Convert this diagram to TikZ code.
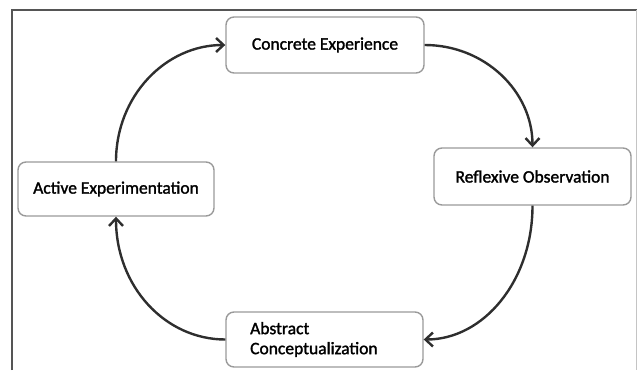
\documentclass[tikz,border=0pt]{standalone}
\usepackage{fontspec}
\setmainfont{Carlito}[BoldFont=Carlito, BoldFeatures={FakeBold=1.6}]
\usetikzlibrary{arrows.meta}
\definecolor{boxline}{HTML}{9A9A9A}
\definecolor{arrowline}{HTML}{2E2E2E}
\definecolor{frameline}{HTML}{555555}
\definecolor{frameright}{HTML}{C4C4C4}
\tikzset{
  labelfont/.style={font=\fontsize{17.5}{20}\selectfont\bfseries},
  stage/.style={draw=boxline, line width=1.4pt, rounded corners=8pt, fill=white,
    minimum width=#1, inner sep=0pt, labelfont},
  stage/.default=197pt,
  cycle/.style={draw=arrowline, line width=2.4pt,
    -{Straight Barb[length=7.5pt,width=14pt]}},
}
\begin{document}
\begin{tikzpicture}[x=1pt,y=-1pt]
  \useasboundingbox (0,0) rectangle (637,370);
  % frame
  \draw[frameline, line width=1.6pt] (12,370) -- (12,10) -- (637,10);
  \draw[frameright, line width=1pt] (636,10) -- (636,370);

  % the four stages
  \node[stage=198pt, minimum height=56pt] (ce) at (325,45) {Concrete Experience};
  \node[stage=197pt, minimum height=57pt] (ro) at (532.5,176.5) {Reflexive Observation};
  \node[stage=196pt, minimum height=54pt] (ae) at (116,189) {Active Experimentation};
  \node[stage=197pt, minimum height=55pt] (ac) at (324.5,339.5) {};
  \node[anchor=west, align=left, inner sep=0pt, labelfont]
    (actext) at (250,339.5) {Abstract\\Conceptualization};

  % the cycle
  \draw[cycle] (ce.east) .. controls +(60,0) and +(0,-56) .. (ro.north);
  \draw[cycle] (ro.south) .. controls +(0,75) and +(60,0) .. (ac.east);
  \draw[cycle] (ac.west) .. controls +(-60,0) and +(0,70) .. (ae.south);
  \draw[cycle] (ae.north) .. controls +(0,-65) and +(-60,0) .. (ce.west);
\end{tikzpicture}
\end{document}
